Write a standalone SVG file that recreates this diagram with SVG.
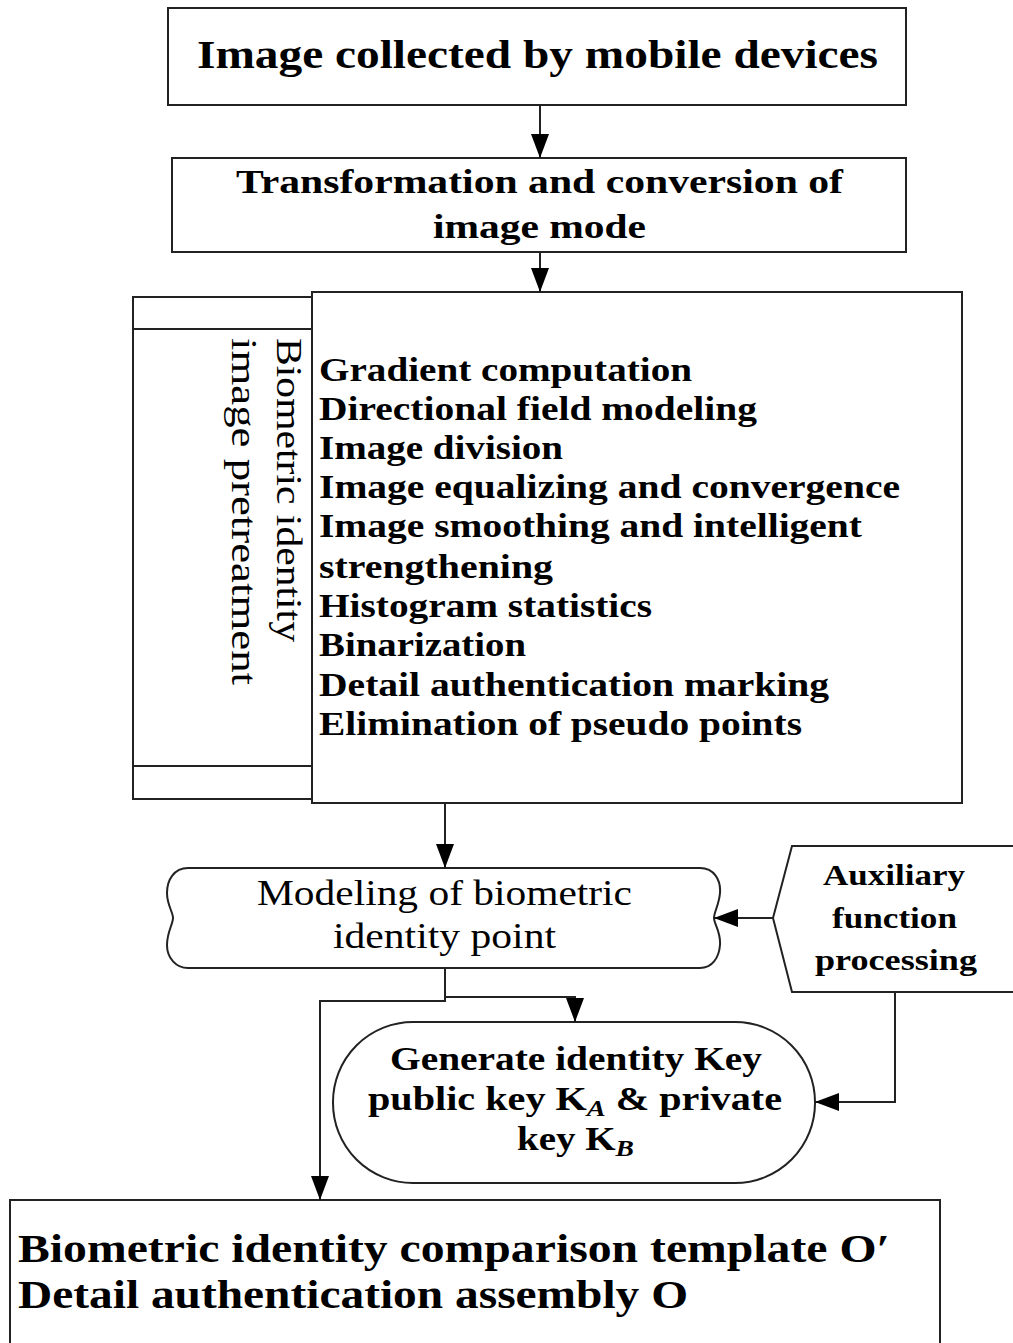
<svg xmlns="http://www.w3.org/2000/svg" width="1013" height="1343" viewBox="0 0 1013 1343">
<defs>
<style>
.box{fill:#fff;stroke:#222;stroke-width:2}
.ln{fill:none;stroke:#222;stroke-width:2}
.b{font-family:"Liberation Serif","Times New Roman",serif;font-weight:bold;fill:#000}
.r{font-family:"Liberation Serif","Times New Roman",serif;fill:#000}
</style>
<marker id="ah" markerUnits="userSpaceOnUse" markerWidth="24" markerHeight="18" refX="24" refY="9" orient="auto">
<path d="M0 0 L24 9 L0 18 Z" fill="#000"/>
</marker>
</defs>
<rect width="1013" height="1343" fill="#fff"/>

<g id="n1">
<rect class="box" x="168" y="8" width="738" height="97"/>
<text class="b" x="197" y="68" font-size="40" textLength="681" lengthAdjust="spacingAndGlyphs">Image collected by mobile devices</text>
</g>

<g id="n2">
<rect class="box" x="172" y="158" width="734" height="94"/>
<text class="b" x="236" y="193" font-size="34" textLength="607" lengthAdjust="spacingAndGlyphs">Transformation and conversion of</text>
<text class="b" x="433" y="238" font-size="34" textLength="213" lengthAdjust="spacingAndGlyphs">image mode</text>
</g>

<g id="n3">
<rect class="box" x="133" y="297" width="179" height="502"/>
<line class="ln" x1="133" y1="329" x2="312" y2="329"/>
<line class="ln" x1="133" y1="766" x2="312" y2="766"/>
<g transform="translate(277 338) rotate(90)">
<text class="r" x="0" y="0" font-size="36" textLength="304" lengthAdjust="spacingAndGlyphs">Biometric identity</text>
<text class="r" x="0" y="45" font-size="36" textLength="347" lengthAdjust="spacingAndGlyphs">image pretreatment</text>
</g>
<rect class="box" x="312" y="292" width="650" height="511"/>
<text class="b" x="319" y="381" font-size="34" textLength="373" lengthAdjust="spacingAndGlyphs">Gradient computation</text>
<text class="b" x="319" y="420" font-size="34" textLength="438" lengthAdjust="spacingAndGlyphs">Directional field modeling</text>
<text class="b" x="319" y="459" font-size="34" textLength="244" lengthAdjust="spacingAndGlyphs">Image division</text>
<text class="b" x="319" y="498" font-size="34" textLength="581" lengthAdjust="spacingAndGlyphs">Image equalizing and convergence</text>
<text class="b" x="319" y="537" font-size="34" textLength="543" lengthAdjust="spacingAndGlyphs">Image smoothing and intelligent</text>
<text class="b" x="319" y="578" font-size="34" textLength="234" lengthAdjust="spacingAndGlyphs">strengthening</text>
<text class="b" x="319" y="617" font-size="34" textLength="333" lengthAdjust="spacingAndGlyphs">Histogram statistics</text>
<text class="b" x="319" y="656" font-size="34" textLength="207" lengthAdjust="spacingAndGlyphs">Binarization</text>
<text class="b" x="319" y="696" font-size="34" textLength="510" lengthAdjust="spacingAndGlyphs">Detail authentication marking</text>
<text class="b" x="319" y="735" font-size="34" textLength="483" lengthAdjust="spacingAndGlyphs">Elimination of pseudo points</text>
</g>

<g id="n4">
<path class="box" d="M188 868 H700 C714 868 721 880 720 893 C719 905 714 912 714 918 C714 924 721 932 720 945 C719 958 712 968 700 968 H188 C176 968 167 958 167 945 C167 932 173 924 173 918 C173 912 167 905 167 893 C167 880 174 868 188 868 Z"/>
<text class="r" x="257" y="905" font-size="36" textLength="375" lengthAdjust="spacingAndGlyphs">Modeling of biometric</text>
<text class="r" x="333" y="948" font-size="36" textLength="223" lengthAdjust="spacingAndGlyphs">identity point</text>
</g>

<g id="n5">
<path class="box" d="M1016 846 H792 L773 918 L792 992 H1016"/>
<text class="b" x="823" y="885" font-size="30" textLength="142" lengthAdjust="spacingAndGlyphs">Auxiliary</text>
<text class="b" x="832" y="928" font-size="30" textLength="125" lengthAdjust="spacingAndGlyphs">function</text>
<text class="b" x="815" y="970" font-size="30" textLength="162" lengthAdjust="spacingAndGlyphs">processing</text>
</g>

<g id="n6">
<rect class="box" x="333" y="1022" width="482" height="161" rx="80" ry="80"/>
<text class="b" x="390" y="1070" font-size="34" textLength="372" lengthAdjust="spacingAndGlyphs">Generate identity Key</text>
<text class="b" x="368" y="1110" font-size="34" textLength="414" lengthAdjust="spacingAndGlyphs">public key K<tspan font-style="italic" font-size="24" dy="6">A</tspan><tspan dy="-6">  &amp; private</tspan></text>
<text class="b" x="517" y="1150" font-size="34" textLength="117" lengthAdjust="spacingAndGlyphs">key K<tspan font-style="italic" font-size="24" dy="6">B</tspan></text>
</g>

<g id="n7">
<rect class="box" x="10" y="1200" width="930" height="160"/>
<text class="b" x="18" y="1262" font-size="40" textLength="872" lengthAdjust="spacingAndGlyphs">Biometric identity comparison template O′</text>
<text class="b" x="18" y="1308" font-size="40" textLength="670" lengthAdjust="spacingAndGlyphs">Detail authentication assembly O</text>
</g>

<g id="connectors">
<path class="ln" d="M540 105 V158" marker-end="url(#ah)"/>
<path class="ln" d="M540 252 V292" marker-end="url(#ah)"/>
<path class="ln" d="M445 803 V868" marker-end="url(#ah)"/>
<path class="ln" d="M445 968 V997 H575 V1022" marker-end="url(#ah)"/>
<path class="ln" d="M445 997 V1001 H320 V1200" marker-end="url(#ah)"/>
<path class="ln" d="M773 918 H714" marker-end="url(#ah)"/>
<path class="ln" d="M895 992 V1102 H815" marker-end="url(#ah)"/>
</g>
</svg>
